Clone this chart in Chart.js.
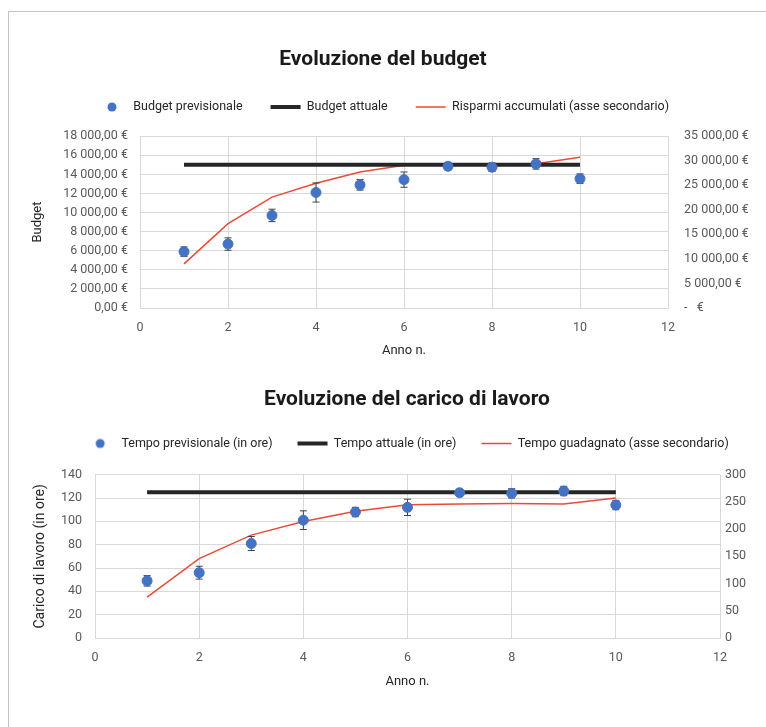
<!DOCTYPE html>
<html>
<head>
<meta charset="utf-8">
<script src="https://cdn.jsdelivr.net/npm/chart.js@4.4.1/dist/chart.umd.min.js"></script>
<style>
    body { margin: 0; background: #fff; }
    #frame { position: absolute; left: 8px; top: 11px; width: 900px; height: 900px;
             border-top: 1px solid #c4c4c4; border-left: 1px solid #c4c4c4; }
    .box { position: absolute; left: 0; }
</style>
</head>
<body>
<div id="frame"></div>
<div class="box" style="top:0"><canvas id="budget-chart" width="766" height="370"></canvas></div>
<div class="box" style="top:370px"><canvas id="lavoro-chart" width="766" height="357"></canvas></div>
<script>
// Dati
var anni = [1, 2, 3, 4, 5, 6, 7, 8, 9, 10];

var budgetPrevisionale = [5900, 6700, 9700, 12100, 12900, 13450, 14850, 14750, 15100, 13550];
var budgetErrore = [500, 650, 650, 1000, 550, 800, 400, 450, 550, 500];
var budgetAttuale = [15000, 15000, 15000, 15000, 15000, 15000, 15000, 15000, 15000, 15000];
var risparmiAccumulati = [9000, 17200, 22600, 25400, 27700, 29100, 29200, 29300, 29400, 30700];

var tempoPrevisionale = [49, 56, 81, 101, 108, 112, 124.5, 124, 126, 114];
var tempoErrore = [4.5, 5.5, 6, 8, 4, 7, 3, 4, 4, 4];
var tempoAttuale = [125, 125, 125, 125, 125, 125, 125, 125, 125, 125];
var tempoGuadagnato = [75, 146, 189, 214, 233, 245, 246, 247, 246, 257];

var blu = "#4472C4";
var nero = "#262626";
var rosso = "#EA4B35";
var griglia = "#D9D9D9";
var testoTick = "#595959";

Chart.defaults.font.family = "Roboto, 'Open Sans', sans-serif";
Chart.defaults.color = testoTick;

function punti(valori) {
    return anni.map(function (a, i) { return { x: a, y: valori[i] }; });
}

function migliaia(v) {
    return String(Math.round(v)).replace(/\B(?=(\d{3})+(?!\d))/g, " ");
}

// small blue dot used as legend marker for the scatter series
var dot = document.createElement("canvas");
dot.width = 12; dot.height = 12;
var dctx = dot.getContext("2d");
dctx.fillStyle = blu;
dctx.beginPath();
dctx.arc(6, 6, 4.5, 0, Math.PI * 2);
dctx.fill();

// error bars drawn just before the scatter series, through the y scale
var errorBars = {
    id: "errorBars",
    beforeDatasetDraw: function (chart, args) {
        var ds = chart.data.datasets[args.index];
        if (!ds.errori) return;
        var ctx = chart.ctx;
        var xs = chart.scales.x;
        var ys = chart.scales[ds.yAxisID || "y"];
        ctx.save();
        ctx.strokeStyle = "#404040";
        ctx.lineWidth = 1;
        ds.data.forEach(function (p, i) {
            var px = xs.getPixelForValue(p.x);
            var top = ys.getPixelForValue(p.y + ds.errori[i]);
            var bot = ys.getPixelForValue(p.y - ds.errori[i]);
            ctx.beginPath();
            ctx.moveTo(px, top); ctx.lineTo(px, bot);
            ctx.moveTo(px - 3.5, top); ctx.lineTo(px + 3.5, top);
            ctx.moveTo(px - 3.5, bot); ctx.lineTo(px + 3.5, bot);
            ctx.stroke();
        });
        ctx.restore();
    }
};

// extra space between legend and plot area
var legendGap = {
    id: "legendGap",
    beforeInit: function (chart, args, opts) {
        var fit = chart.legend.fit;
        chart.legend.fit = function () {
            fit.call(this);
            this.height += opts.extra || 0;
        };
    }
};

function legenda(pad) {
    return {
        labels: {
            usePointStyle: true,
            pointStyleWidth: 30,
            boxHeight: 6,
            padding: pad,
            color: "#262626",
            font: { size: 12.5 },
            generateLabels: function (chart) {
                var items = Chart.defaults.plugins.legend.labels.generateLabels(chart);
                items[0].pointStyle = dot;
                return items;
            }
        }
    };
}

function creaGrafico(id, o) {
    var ctx = document.getElementById(id);
    var config = {
        type: "scatter",
        data: {
            datasets: [{
                label: o.nomi[0],
                data: punti(o.previsto),
                errori: o.errore,
                backgroundColor: blu,
                borderColor: blu,
                pointRadius: 5,
                yAxisID: "y"
            }, {
                type: "line",
                label: o.nomi[1],
                data: punti(o.attuale),
                borderColor: nero,
                backgroundColor: nero,
                borderWidth: 4,
                pointRadius: 0,
                pointStyle: "line",
                fill: false,
                yAxisID: "y"
            }, {
                type: "line",
                label: o.nomi[2],
                data: punti(o.secondario),
                borderColor: rosso,
                backgroundColor: rosso,
                borderWidth: 1.5,
                pointRadius: 0,
                pointStyle: "line",
                lineTension: 0,
                fill: false,
                yAxisID: "y2"
            }]
        },
        options: {
            responsive: false,
            animation: false,
            layout: { padding: o.padding },
            plugins: {
                title: {
                    display: true,
                    text: o.titolo,
                    color: "#1a1a1a",
                    font: { size: 21, weight: "bold" },
                    padding: o.titoloPad
                },
                legend: legenda(o.padLegenda),
                legendGap: { extra: o.gap },
                tooltip: { enabled: false }
            },
            scales: {
                x: {
                    type: "linear",
                    min: 0, max: 12,
                    ticks: { stepSize: 2, padding: 12, font: { size: 12.5 } },
                    grid: { color: griglia, drawTicks: false },
                    border: { color: griglia },
                    title: { display: true, text: "Anno n.", color: "#262626", font: { size: 13 }, padding: { top: 0, bottom: 4 } },
                    afterFit: function (s) { s.height = o.altezzaX; }
                },
                y: {
                    position: "left",
                    min: 0, max: o.maxY,
                    ticks: { stepSize: o.passoY, padding: o.padY, font: { size: 12.5 }, callback: o.fmtY },
                    grid: { color: griglia, drawTicks: false },
                    border: { color: griglia },
                    title: { display: true, text: o.titoloY, color: "#262626", font: { size: o.fontTitoloY },
                             padding: { top: o.padTitoloY, bottom: 4 } },
                    afterFit: function (s) { s.width = o.larghezzaY; }
                },
                y2: {
                    position: "right",
                    min: 0, max: o.maxY2,
                    ticks: { stepSize: o.passoY2, padding: o.padY2, font: { size: 12.5 }, callback: o.fmtY2 },
                    grid: { drawOnChartArea: false, drawTicks: false },
                    border: { display: false },
                    afterFit: function (s) { s.width = o.larghezzaY2; }
                }
            }
        },
        plugins: [errorBars, legendGap]
    };
    return new Chart(ctx, config);
}

// Evoluzione del budget
var budgetChart = creaGrafico("budget-chart", {
    titolo: "Evoluzione del budget",
    nomi: ["Budget previsionale", "Budget attuale", "Risparmi accumulati (asse secondario)"],
    previsto: budgetPrevisionale,
    errore: budgetErrore,
    attuale: budgetAttuale,
    secondario: risparmiAccumulati,
    padding: { top: 0, left: 0, right: 0, bottom: 7 },
    titoloPad: { top: 47, bottom: 0.5 },
    padLegenda: 28,
    gap: 13,
    altezzaX: 55,
    titoloY: "Budget", fontTitoloY: 13, padTitoloY: 30,
    maxY: 18000, passoY: 2000, padY: 12, larghezzaY: 140,
    fmtY: function (v) { return migliaia(v) + ",00 €"; },
    maxY2: 35000, passoY2: 5000, padY2: 16, larghezzaY2: 98,
    fmtY2: function (v) { return v === 0 ? "-   €" : migliaia(v) + ",00 €"; }
});

// Evoluzione del carico di lavoro
var lavoroChart = creaGrafico("lavoro-chart", {
    titolo: "Evoluzione del carico di lavoro",
    nomi: ["Tempo previsionale (in ore)", "Tempo attuale (in ore)", "Tempo guadagnato (asse secondario)"],
    previsto: tempoPrevisionale,
    errore: tempoErrore,
    attuale: tempoAttuale,
    secondario: tempoGuadagnato,
    padding: { top: 0, left: 48, right: 0, bottom: 33 },
    titoloPad: { top: 17, bottom: 0 },
    padLegenda: 25,
    gap: 15,
    altezzaX: 56,
    titoloY: "Carico di lavoro (in ore)", fontTitoloY: 14, padTitoloY: -16.4,
    maxY: 140, passoY: 20, padY: 13, larghezzaY: 47,
    fmtY: function (v) { return v; },
    maxY2: 300, passoY2: 50, padY2: 5, larghezzaY2: 46,
    fmtY2: function (v) { return v; }
});
</script>
</body>
</html>
